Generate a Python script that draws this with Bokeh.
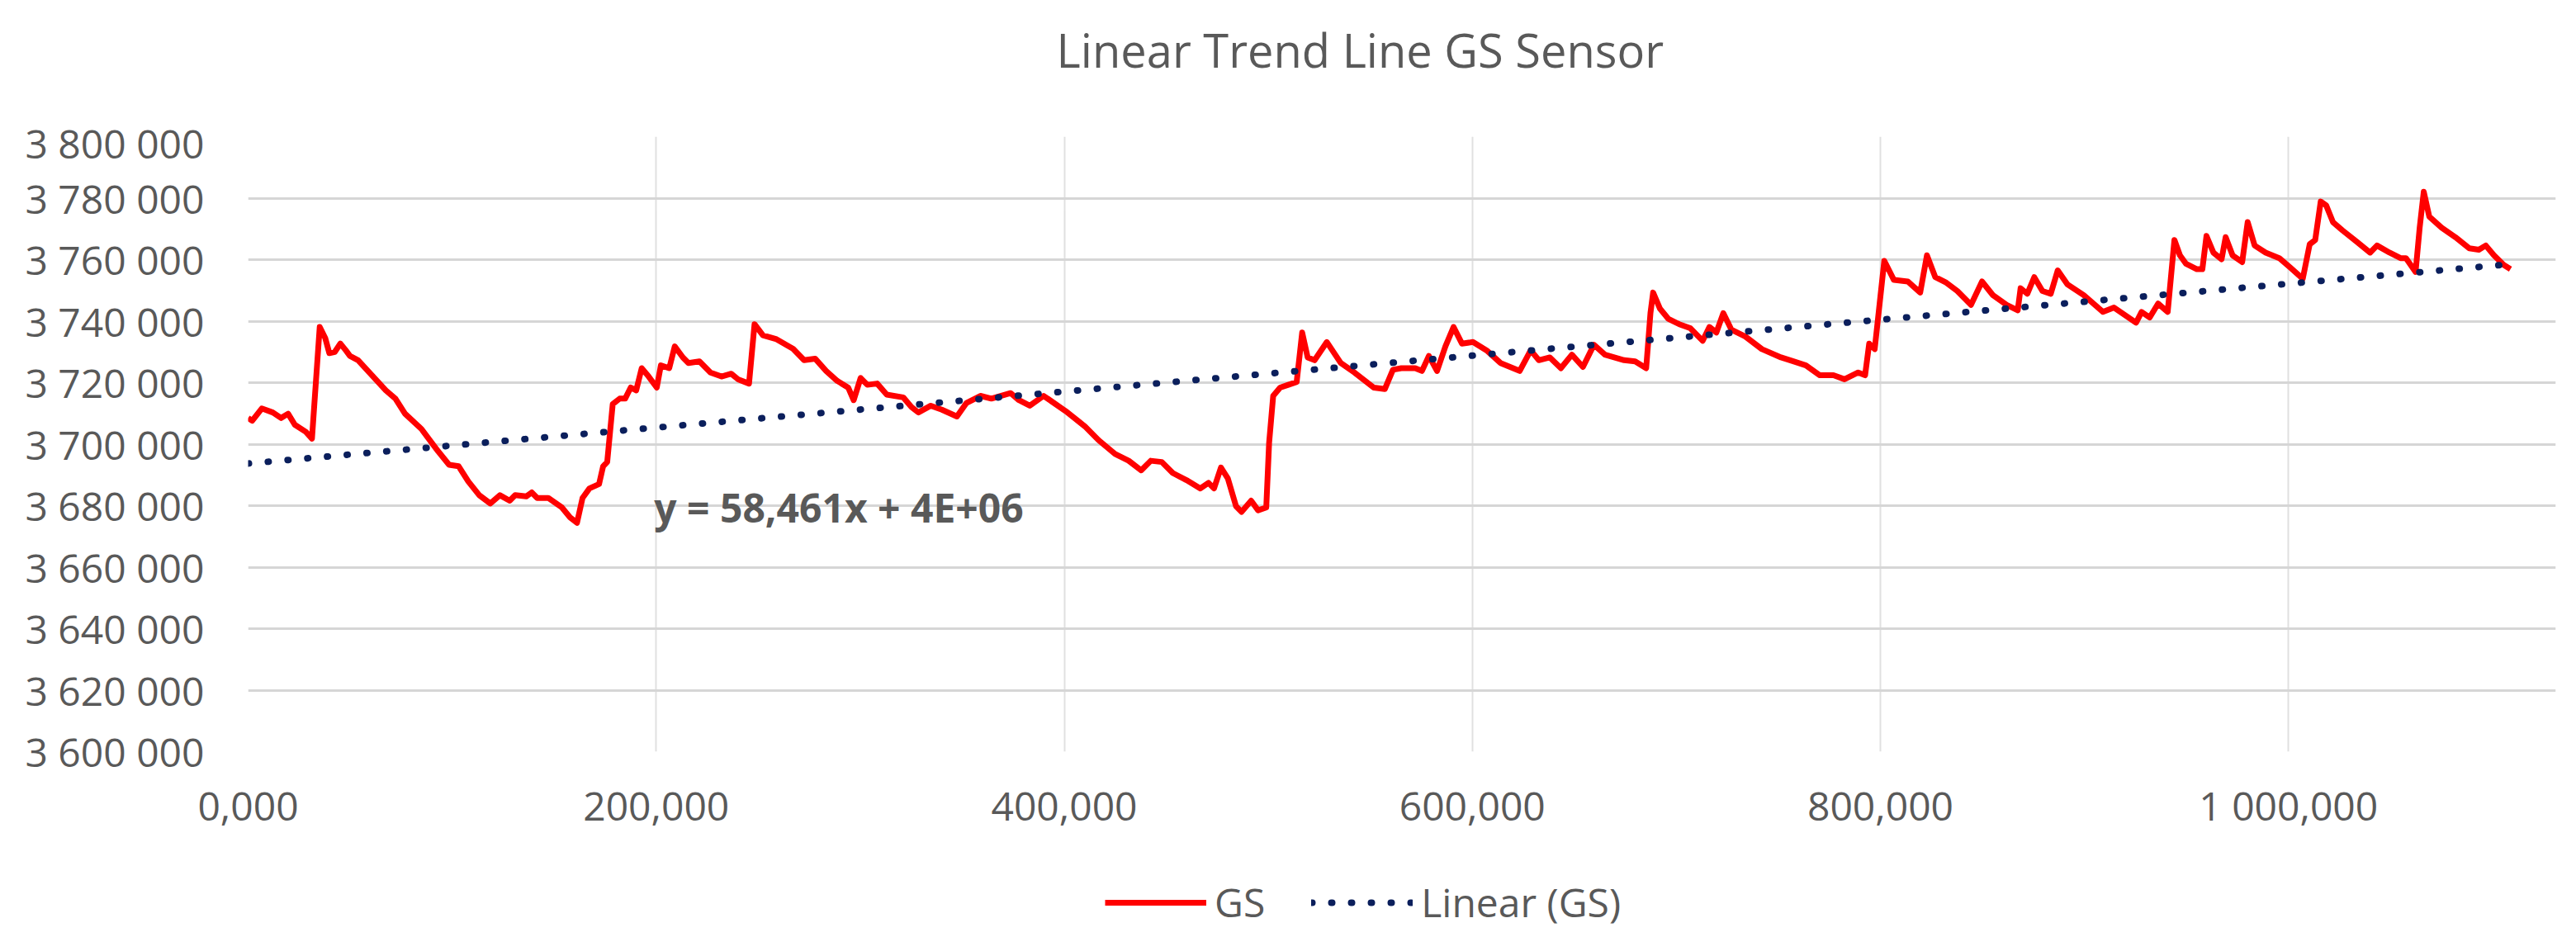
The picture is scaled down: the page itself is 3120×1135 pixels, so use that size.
from bokeh.plotting import figure
from bokeh.layouts import column
from bokeh.models import FixedTicker, Range1d, Legend, LegendItem, Label
from bokeh.embed import file_html
from bokeh.resources import INLINE

# ---- data ----
x_vals = [0, 2, 6.7, 12.1, 16.2, 19.6, 22.9, 28.3, 31.3, 35.1, 37.8, 39.8, 42.5, 45.2, 47.9, 49.9,
          53.9, 60.7, 67.5, 72.2, 76.9, 85.0, 93.1, 98.5, 103.2, 107.9, 113.3, 118.7, 123.4, 128.2,
          130.9, 136.3, 139.0, 141.7, 147.1, 153.8, 157.8, 161.2, 163.9, 167.3, 172.0, 174.0, 176.0,
          177.4, 178.7, 182.1, 184.8, 187.5,
          190.2, 192.9, 196.3, 200.3, 202.3, 206.4, 209.1, 213.1, 215.8, 221.2, 226.6, 232.0, 236.8,
          240.1, 245.5, 248.2, 252.3, 259.0, 267.1, 272.5, 277.9, 283.3, 288.7, 294.1, 296.8, 300.2,
          303.5, 308.3, 313.0, 321.1, 325.1, 328.5, 334.6, 340.0, 347.4, 352.1, 358.9, 364.3, 373.7,
          377.8,
          383.1, 389.9, 400.6, 410.1, 416.8, 424.9, 431.6, 437.7, 442.4, 447.8, 453.2, 459.9, 466.7,
          470.7, 473.4, 476.8, 480.2, 484.2, 486.9, 491.6, 495.0, 499.0, 500.4, 502.4, 505.8, 509.8,
          513.9, 516.6, 519.3, 522.7, 528.7, 535.5, 542.2, 551.7, 557.1, 561.1, 565.2,
          572.0, 575.3, 578.7, 582.7, 586.8, 590.8, 594.9, 600.3, 607.0, 613.8, 623.2, 628.6, 632.6,
          638.0, 643.4, 648.8, 654.2, 659.6, 665.0, 674.4, 679.8, 685.2, 687.3, 688.6, 692.0, 696.0,
          701.4, 706.8, 712.9, 716.2, 719.6, 723.0, 727.0, 733.8, 741.9, 751.3,
          757.0, 763.5, 770.3, 777.0, 782.4, 789.1, 792.5, 794.5, 797.2, 801.9, 806.6, 813.4, 819.5,
          822.8, 826.9, 832.3, 837.7, 844.4, 849.8, 855.2, 861.9, 867.3, 868.7, 872.0, 875.4, 879.4,
          883.5, 886.9, 891.6, 899.7, 909.1, 914.5, 925.3, 928.0, 932.0, 936.1, 940.8, 944.1, 946.8,
          949.7, 955.1, 957.8, 959.8, 963.2, 967.2, 969.2, 972.6, 977.3, 980.0, 983.4, 988.8, 995.5,
          1000.9, 1007.0, 1010.4, 1013.1, 1015.8, 1018.5, 1021.8, 1026.5, 1033.3, 1040.0, 1043.4,
          1049.5, 1054.9, 1057.6, 1062.3, 1064.3, 1066.3, 1069.0, 1075.1, 1081.8, 1088.6, 1093.3,
          1096.7, 1100.7, 1105.4, 1108.8]

gs_vals = [3708500, 3707600, 3711600, 3710300, 3708500, 3709900, 3706300, 3704000, 3701800, 3738100,
           3734500, 3729600, 3730000, 3732700, 3730500, 3728700, 3727300, 3722400, 3717500, 3714800,
           3709900, 3704900, 3697700, 3693300, 3692800, 3687900, 3683400, 3680700, 3683400, 3681600,
           3683400, 3683000, 3684300, 3682500, 3682500, 3679400, 3676200, 3674400, 3682500, 3685600,
           3687000, 3692800, 3694200, 3704000, 3713000, 3714800, 3714800, 3718400,
           3717500, 3724700, 3722000, 3718400, 3725600, 3724700, 3731800, 3728200, 3726400, 3726900,
           3723300, 3722000, 3722900, 3721100, 3719700, 3739000, 3735400, 3734100, 3731000, 3727300,
           3727800, 3723800, 3720600, 3718400, 3714300, 3721500, 3719300, 3719700, 3716100, 3715200,
           3712100, 3710300, 3712500, 3711200, 3709000, 3713400, 3715700, 3714800, 3716600, 3714300,
           3712500, 3715700, 3710800, 3705800, 3701300, 3696800, 3694600, 3691500, 3694600, 3694200,
           3690600, 3688300, 3685600, 3687400, 3685600, 3692400, 3688800, 3679800, 3678000, 3681600,
           3678500, 3679400, 3700400, 3715700, 3718400, 3719300, 3720200, 3736300, 3728200, 3727300,
           3733200, 3726400, 3723300, 3718400, 3717900, 3724200, 3724700,
           3724700, 3723800, 3728700, 3723800, 3731800, 3738100, 3732700, 3733200, 3730500, 3726400,
           3723800, 3730500, 3727300, 3728200, 3724700, 3729100, 3725100, 3732300, 3729100, 3727300,
           3726900, 3724700, 3742600, 3749300, 3744000, 3740800, 3739000, 3737700, 3733600, 3738100,
           3736300, 3742600, 3737200, 3735000, 3730900, 3728200,
           3727000, 3725600, 3722400, 3722400, 3721100, 3723300, 3722400, 3732700, 3730900, 3759600,
           3753400, 3752900, 3749300, 3761400, 3754300, 3752500, 3749800, 3745300, 3752900, 3748400,
           3745300, 3743500, 3750700, 3748900, 3754300, 3749800, 3748900, 3756500, 3752000, 3748400,
           3743000, 3744400, 3739500, 3743000, 3741200, 3745700, 3743000, 3766400, 3761400,
           3758700, 3756900, 3756900, 3767700, 3762300, 3760100, 3767300, 3761400, 3759200, 3772200,
           3764600, 3762300, 3760500, 3757400, 3753800, 3765000, 3766400, 3778900, 3777600, 3772200,
           3769500, 3765900, 3762300, 3764600, 3762300, 3760500, 3760500, 3756000, 3770400, 3782100,
           3774000, 3770400, 3767300, 3763700, 3763200, 3764600, 3761400, 3758300, 3756900]

trend_slope = 58.461
trend_intercept = 3693700

x_ticks = [0, 200, 400, 600, 800, 1000]
x_tick_labels = ["0,000", "200,000", "400,000", "600,000", "800,000", "1 000,000"]
y_ticks = [3600000, 3620000, 3640000, 3660000, 3680000, 3700000,
           3720000, 3740000, 3760000, 3780000, 3800000]
y_tick_labels = ["3 600 000", "3 620 000", "3 640 000", "3 660 000", "3 680 000", "3 700 000",
                 "3 720 000", "3 740 000", "3 760 000", "3 780 000", "3 800 000"]

title_text = "Linear Trend Line GS Sensor"
equation_text = "y = 58,461x + 4E+06"
series_names = ["GS", "Linear (GS)"]

# ---- styling ----
FONT = "Open Sans"
GREY = "#595959"
GS_STYLE = dict(line_color="#ff0000", line_width=7, line_join="round")
TR_STYLE = dict(line_color="#0b1f5c", line_width=8, line_dash="1 23", line_cap="round")
X_RANGE = Range1d(0, 1131)

# ---- title strip ----
pt = figure(width=3120, height=140, output_backend="svg", toolbar_location=None,
            x_range=X_RANGE, y_range=Range1d(0, 140),
            x_axis_location=None, y_axis_location=None,
            min_border_left=300, min_border_right=25, min_border_top=0, min_border_bottom=0)
pt.outline_line_color = None
pt.grid.visible = False
pt.add_layout(Label(x=545, y=140 - 59, text=title_text, text_font=FONT, text_font_size="56px",
                    text_color=GREY, text_align="center", text_baseline="middle"))

# ---- main chart ----
p = figure(width=3120, height=910, output_backend="svg", toolbar_location=None,
           x_range=X_RANGE, y_range=Range1d(3600000, 3800000),
           min_border_left=300, min_border_right=25, min_border_top=25, min_border_bottom=140)
p.outline_line_color = None
p.background_fill_color = "white"
p.border_fill_color = "white"

xt = FixedTicker(ticks=x_ticks)
yt = FixedTicker(ticks=y_ticks)
p.xaxis.ticker = xt
p.yaxis.ticker = yt
p.xgrid.ticker = xt
p.ygrid.ticker = yt
p.xaxis.major_label_overrides = {t: l for t, l in zip(x_ticks, x_tick_labels)}
p.yaxis.major_label_overrides = {t: l for t, l in zip(y_ticks, y_tick_labels)}

for ax in (p.xaxis, p.yaxis):
    ax.axis_line_color = None
    ax.major_tick_line_color = None
    ax.minor_tick_line_color = None
    ax.major_label_text_font = FONT
    ax.major_label_text_font_size = "48px"
    ax.major_label_text_color = GREY
p.xaxis.major_label_standoff = 26
p.yaxis.major_label_standoff = 47

p.xgrid.grid_line_color = "#e0e0e0"
p.xgrid.grid_line_width = 2
p.ygrid.grid_line_color = "#d6d6d6"
p.ygrid.grid_line_width = 3

r_gs = p.line(x_vals, gs_vals, **GS_STYLE)

tx = [x_vals[0], x_vals[-1]]
ty = [trend_intercept + trend_slope * v for v in tx]
r_tr = p.line(tx, ty, **TR_STYLE)

eq = Label(x=199, y=3679500, text=equation_text, text_font=FONT, text_font_style="bold",
           text_font_size="48px", text_color=GREY, text_baseline="middle", text_align="left")
p.add_layout(eq)

# ---- legend strip (the same two series, outside this strip's visible range) ----
pl = figure(width=3120, height=85, output_backend="svg", toolbar_location=None,
            x_range=Range1d(0, 1), y_range=Range1d(0, 1),
            x_axis_location=None, y_axis_location=None,
            min_border_left=300, min_border_right=25, min_border_top=0, min_border_bottom=0)
pl.outline_line_color = None
pl.grid.visible = False
lg_gs = pl.line(x_vals, gs_vals, **GS_STYLE)
lg_tr = pl.line(tx, ty, **TR_STYLE)

legend = Legend(items=[LegendItem(label=series_names[0], renderers=[lg_gs]),
                       LegendItem(label=series_names[1], renderers=[lg_tr])],
                orientation="horizontal", location=(1038, 10))
legend.label_text_font = FONT
legend.label_text_font_size = "48px"
legend.label_text_color = GREY
legend.glyph_width = 123
legend.glyph_height = 40
legend.label_standoff = 10
legend.spacing = 56
legend.padding = 0
legend.margin = 0
legend.border_line_color = None
legend.background_fill_alpha = 0
pl.add_layout(legend)

open("out.html", "w").write(file_html(column(pt, p, pl, spacing=0), INLINE))
